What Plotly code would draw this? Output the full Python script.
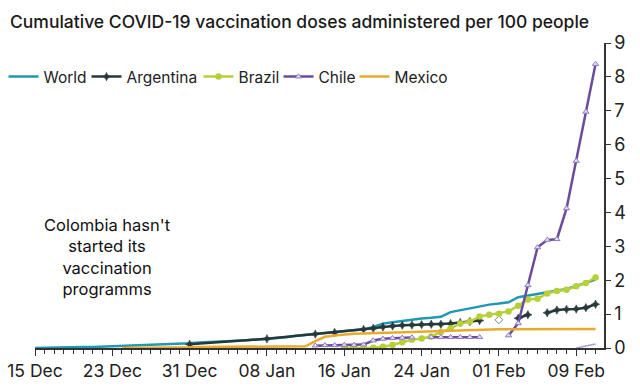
import plotly.graph_objects as go
import pandas as pd

# ---- data ----
world_start = "2020-12-15"
world = [0.00, 0.01, 0.01, 0.02, 0.02, 0.03, 0.03, 0.04, 0.04, 0.05, 0.06, 0.07, 0.08, 0.09, 0.11, 0.13, 0.14,
         0.16, 0.17, 0.18, 0.19, 0.21, 0.23, 0.25, 0.27, 0.29, 0.32, 0.36, 0.39, 0.42, 0.45, 0.48, 0.50, 0.52,
         0.55, 0.62, 0.72, 0.76, 0.80, 0.84, 0.87, 0.89, 0.92, 1.06, 1.12, 1.18, 1.23, 1.28,
         1.31, 1.35, 1.50, 1.55, 1.60, 1.65, 1.70, 1.74, 1.83, 1.93, 2.02]

argentina_dates = ["2020-12-31", "2021-01-08", "2021-01-13", "2021-01-15", "2021-01-18", "2021-01-19",
                   "2021-01-20", "2021-01-21", "2021-01-22", "2021-01-23", "2021-01-24", "2021-01-25",
                   "2021-01-26", "2021-01-27", "2021-01-28", "2021-01-29", "2021-01-30", "2021-01-31",
                   "2021-02-01", "2021-02-02", "2021-02-03", "2021-02-04", "2021-02-05", "2021-02-06",
                   "2021-02-07", "2021-02-08", "2021-02-09", "2021-02-10", "2021-02-11"]
argentina = [0.11, 0.27, 0.41, 0.46, 0.55, 0.58, 0.62, 0.65, 0.67, 0.68, 0.69, 0.70, 0.70, 0.72, 0.75, 0.78,
             0.81, None, 0.83, None, 0.88, 0.98, None, 1.04, 1.12, 1.14, 1.15, 1.19, 1.29]

brazil_start = "2021-01-16"
brazil = [0.0, 0.0, 0.0, 0.01, 0.04, 0.09, 0.17, 0.24, 0.28, 0.34, 0.47, 0.58, 0.72, 0.78, 0.93, 0.98,
          1.01, 1.08, 1.25, 1.43, 1.45, 1.61, 1.68, 1.72, 1.82, 1.92, 2.08]

chile_start = "2021-01-13"
chile = [0.07, 0.08, 0.08, 0.09, 0.09, 0.10, 0.22, 0.27, 0.29, 0.30, 0.31, None, 0.32, 0.32, 0.32, 0.32,
         0.32, 0.32, None, None, 0.37, 0.73, 1.85, 2.97, 3.19, 3.21, 4.12, 5.52, 6.97, 8.38]

mexico_start = "2020-12-24"
mexico = [0.00, 0.00, 0.01, 0.01, 0.01, 0.02, 0.02, 0.02,
          0.03, 0.03, 0.03, 0.03, 0.03, 0.04, 0.04, 0.04, 0.04, 0.04, 0.05, 0.05, 0.20, 0.33, 0.37, 0.40,
          0.42, 0.43, 0.44, 0.45, 0.46, 0.47, 0.48, 0.49, 0.50, 0.51, 0.52, 0.53, 0.54, 0.54, 0.55,
          0.55, 0.55, 0.55, 0.56, 0.56, 0.56, 0.56, 0.56, 0.56, 0.56, 0.56]

other_start = "2021-02-09"
other = [0.0, 0.05, 0.12]

title_text = "Cumulative COVID-19 vaccination doses administered per 100 people"
note_text = "Colombia hasn't<br>started its<br>vaccination<br>programms"


def dates(start, n):
    return pd.date_range(start, periods=n, freq="D")


FONT = "Inter"
W, H = 640, 387
fig = go.Figure()

fig.add_trace(go.Scatter(x=dates(world_start, len(world)), y=world, name="World", mode="lines",
                         legend="legend",
                         line=dict(color="#1f98b6", width=2.5)))

arg_symbols = ["star-diamond"] * len(argentina)
arg_symbols[argentina_dates.index("2021-02-01")] = "diamond-open"
fig.add_trace(go.Scatter(x=pd.to_datetime(argentina_dates), y=argentina, name="Argentina",
                         mode="lines+markers", connectgaps=False, legend="legend2",
                         line=dict(color="#26383a", width=2.5),
                         marker=dict(symbol=arg_symbols, size=6, color="#26383a",
                                     line=dict(color="#26383a", width=0.6))))

fig.add_trace(go.Scatter(x=dates(brazil_start, len(brazil)), y=brazil, name="Brazil",
                         mode="lines+markers", legend="legend3",
                         line=dict(color="#b7d03a", width=2.5),
                         marker=dict(symbol="circle", size=6.5, color="#b7d03a")))

fig.add_trace(go.Scatter(x=dates(chile_start, len(chile)), y=chile, name="Chile",
                         mode="lines+markers", connectgaps=False, legend="legend4",
                         line=dict(color="#6a4b9e", width=2.5),
                         marker=dict(symbol="triangle-up", size=5.5, color="#e2ddf0",
                                     line=dict(color="#8f7bbf", width=1))))

fig.add_trace(go.Scatter(x=dates(mexico_start, len(mexico)), y=mexico, name="Mexico", mode="lines",
                         legend="legend5",
                         line=dict(color="#e8aa2e", width=2.5)))

fig.add_trace(go.Scatter(x=dates(other_start, len(other)), y=other, mode="lines", showlegend=False,
                         line=dict(color="#aa9ccc", width=1.5)))


def leg(text_px):
    return dict(orientation="h", xref="container", yref="container",
                x=(text_px - 41.5) / W, xanchor="left", y=1 - 77 / H, yanchor="middle",
                font=dict(size=15.5, color="#222222", family=FONT), itemwidth=30,
                bgcolor="rgba(0,0,0,0)", borderwidth=0)


fig.update_layout(
    width=W, height=H,
    margin=dict(l=35, r=36, t=43, b=39, autoexpand=False),
    paper_bgcolor="white", plot_bgcolor="white",
    font=dict(family=FONT, color="#222222"),
    title=dict(text=title_text, x=10 / W, xanchor="left", y=1 - 22 / H, yanchor="middle",
               font=dict(size=17.5, color="#1a1a1a", family=FONT, weight=500)),
    showlegend=True,
    legend=leg(45), legend2=leg(128), legend3=leg(240), legend4=leg(320), legend5=leg(396),
    xaxis=dict(
        type="date", automargin=False,
        range=["2020-12-15", "2021-02-11 21:00"],
        tick0="2020-12-15", dtick=8 * 86400000,
        tickformat="%d %b",
        showgrid=False, zeroline=False,
        showline=True, linecolor="#333333", linewidth=1.5,
        ticks="outside", ticklen=6, tickcolor="#333333", tickwidth=1.2,
        minor=dict(dtick=86400000, tick0="2020-12-15", ticks="outside", ticklen=4,
                   tickcolor="#333333", tickwidth=1, showgrid=False),
        tickfont=dict(size=17.5, color="#222222"),
    ),
    yaxis=dict(
        side="right", range=[0, 9], dtick=1, automargin=False,
        showgrid=False, zeroline=False,
        showline=True, linecolor="#333333", linewidth=1.5,
        ticks="outside", ticklen=5, tickcolor="#333333",
        tickfont=dict(size=18, color="#222222"),
    ),
)

fig.add_annotation(text=note_text, xref="paper", yref="paper", x=0.128, y=0.30,
                   xanchor="center", yanchor="middle", showarrow=False,
                   font=dict(size=16.5, color="#111111", family=FONT))

fig.write_html("out.html", config={"displayModeBar": False},
               post_script="document.body.style.margin='0px';document.body.style.overflow='hidden';")
